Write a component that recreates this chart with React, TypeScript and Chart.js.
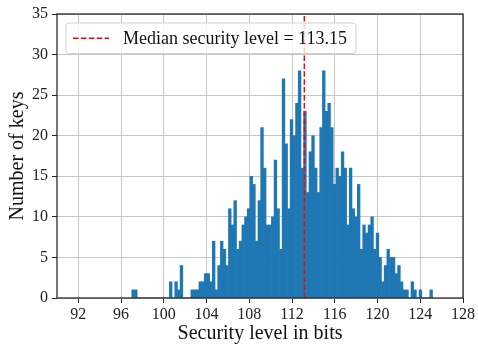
import React, { useEffect, useRef } from 'react';
import { Chart, registerables } from 'chart.js';

Chart.register(...registerables);

// Histogram bins: first bin edge and bin width (security level in bits)
const binStart = 97.0;
const binWidth = 0.2513;

// Number of keys per bin
const counts = [
  1, 1, 0, 0, 0, 0, 0, 0, 0, 0, 0, 0, 0, 0, 2, 0,
  2, 1, 4, 0, 0, 0, 1, 1, 1, 2, 2, 3, 3, 2, 7, 1,
  4, 7, 6, 4, 11, 9, 12, 6, 7, 9, 10, 11, 15, 14, 7, 12,
  21, 16, 9, 9, 10, 17, 11, 6, 27, 19, 11, 22, 20, 24, 28, 16,
  23, 13, 18, 20, 16, 13, 21, 28, 23, 24, 21, 14, 16, 15, 18, 16,
  9, 16, 11, 10, 14, 6, 9, 8, 9, 10, 6, 8, 5, 2, 4, 6,
  5, 5, 3, 4, 2, 1, 1, 0, 2, 1, 0, 1, 0, 0, 0, 1,
];

const xTicks = [92, 96, 100, 104, 108, 112, 116, 120, 124, 128];
const xMin = 90;
const xMax = 128;
const yMin = 0;
const yMax = 35;
const yStep = 5;

const medianValue = 113.15;
const legendLabel = `Median security level = ${medianValue}`;
const xTitle = 'Security level in bits';
const yTitle = 'Number of keys';

const FONT = "'Liberation Serif', 'DejaVu Serif', serif";

export default function App() {
  const canvasRef = useRef<HTMLCanvasElement | null>(null);

  useEffect(() => {
    document.body.style.margin = '0';
    const canvas = canvasRef.current;
    if (!canvas) return;

    const barData = counts.map((c, i) => ({ x: binStart + (i + 0.5) * binWidth, y: c }));
    const medianData = [
      { x: medianValue, y: yMin },
      { x: medianValue, y: yMax },
    ];

    const frameLegendPlugin = {
      id: 'frameLegend',
      afterDraw(chart: any) {
        const { ctx, chartArea: a } = chart;
        ctx.save();
        // spines
        ctx.strokeStyle = '#1a1a1a';
        ctx.lineWidth = 1.2;
        ctx.strokeRect(a.left, a.top, a.right - a.left, a.bottom - a.top);

        // legend box
        ctx.font = `18px ${FONT}`;
        const tw = ctx.measureText(legendLabel).width;
        const bx = a.left + 9;
        const by = a.top + 9;
        const bh = 30.5;
        const textX = bx + 57;
        const bw = textX - bx + tw + 9;
        const r = 3;
        ctx.beginPath();
        ctx.moveTo(bx + r, by);
        ctx.lineTo(bx + bw - r, by);
        ctx.quadraticCurveTo(bx + bw, by, bx + bw, by + r);
        ctx.lineTo(bx + bw, by + bh - r);
        ctx.quadraticCurveTo(bx + bw, by + bh, bx + bw - r, by + bh);
        ctx.lineTo(bx + r, by + bh);
        ctx.quadraticCurveTo(bx, by + bh, bx, by + bh - r);
        ctx.lineTo(bx, by + r);
        ctx.quadraticCurveTo(bx, by, bx + r, by);
        ctx.closePath();
        ctx.fillStyle = 'rgba(255,255,255,0.8)';
        ctx.fill();
        ctx.strokeStyle = 'rgba(204,204,204,0.9)';
        ctx.lineWidth = 1;
        ctx.stroke();

        // legend sample line
        const ly = by + bh / 2;
        ctx.beginPath();
        ctx.setLineDash([5.5, 2.4]);
        ctx.strokeStyle = '#ff0000';
        ctx.lineWidth = 1.5;
        ctx.moveTo(bx + 7, ly);
        ctx.lineTo(bx + 43, ly);
        ctx.stroke();
        ctx.setLineDash([]);

        // legend text
        ctx.fillStyle = '#111';
        ctx.textBaseline = 'middle';
        ctx.textAlign = 'left';
        ctx.fillText(legendLabel, textX, ly + 1);
        ctx.restore();
      },
    };

    const chart = new Chart(canvas, {
      type: 'bar',
      data: {
        datasets: [
          {
            type: 'line',
            label: legendLabel,
            data: medianData,
            borderColor: '#ff0000',
            borderWidth: 1.5,
            borderDash: [5.5, 2.4],
            pointRadius: 0,
            fill: false,
            order: 0,
          } as any,
          {
            type: 'bar',
            label: 'keys',
            data: barData,
            backgroundColor: '#1f77b4',
            borderWidth: 0,
            barPercentage: 1,
            categoryPercentage: 1,
            order: 1,
          } as any,
        ],
      },
      options: {
        responsive: false,
        animation: false,
        devicePixelRatio: 1,
        layout: { padding: { top: 14, right: 15, left: 0, bottom: 0 } },
        plugins: {
          legend: { display: false },
          tooltip: { enabled: false },
        },
        scales: {
          x: {
            type: 'linear',
            min: xMin,
            max: xMax,
            offset: false,
            z: 1,
            grid: {
              offset: false,
              color: '#c6c6c6',
              lineWidth: 1,
              tickLength: 5,
              tickColor: '#222',
              tickWidth: 1,
            },
            border: { display: false },
            afterBuildTicks: (scale: any) => {
              scale.ticks = xTicks.map((v) => ({ value: v }));
            },
            afterFit: (scale: any) => {
              scale.height = 48;
            },
            ticks: {
              autoSkip: false,
              maxRotation: 0,
              padding: 2,
              color: '#222',
              font: { family: FONT, size: 16 },
              callback: (v: any) => String(v),
            },
            title: {
              display: true,
              text: xTitle,
              color: '#111',
              font: { family: FONT, size: 20 },
              padding: { top: 0, bottom: 0 },
            },
          },
          y: {
            type: 'linear',
            min: yMin,
            max: yMax,
            z: 1,
            grid: {
              color: '#c6c6c6',
              lineWidth: 1,
              tickLength: 5,
              tickColor: '#222',
              tickWidth: 1,
            },
            border: { display: false },
            afterFit: (scale: any) => {
              scale.width = 57;
            },
            ticks: {
              stepSize: yStep,
              padding: 4,
              color: '#222',
              font: { family: FONT, size: 16 },
            },
            title: {
              display: true,
              text: yTitle,
              color: '#111',
              font: { family: FONT, size: 20 },
              padding: { top: 6, bottom: 0 },
            },
          },
        },
      },
      plugins: [frameLegendPlugin],
    });

    return () => {
      chart.destroy();
    };
  }, []);

  return (
    <div style={{ width: 478, height: 346 }}>
      <canvas ref={canvasRef} width={478} height={346} style={{ display: 'block' }} />
    </div>
  );
}
